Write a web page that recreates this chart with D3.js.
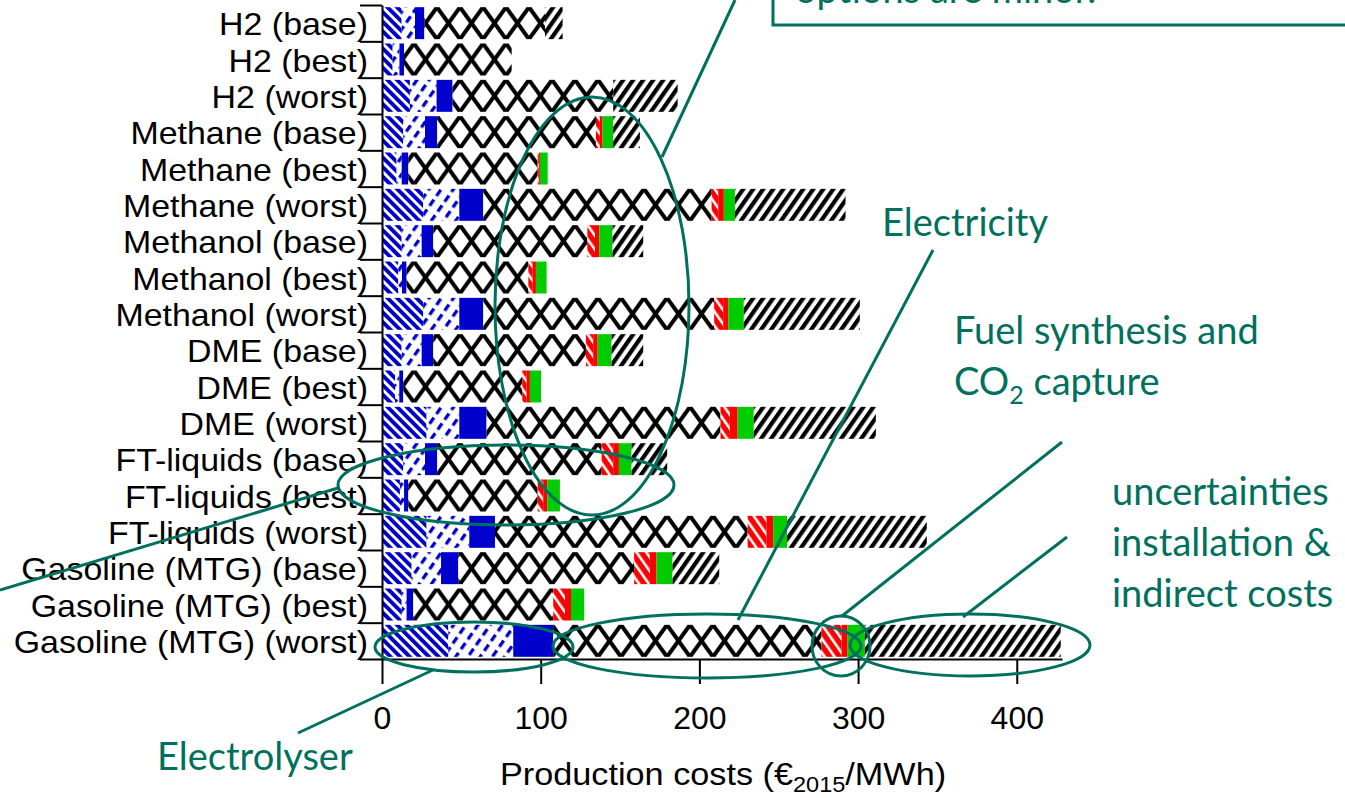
<!DOCTYPE html>
<html lang="en">
<head>
    <meta charset="UTF-8">
    <script src="https://d3js.org/d3.v7.min.js"></script>
    <title>Production costs</title>
</head>
<style>
    body{
        margin: 0;
        background: #fff;
        overflow: hidden;
    }
    .rotulo{
        font-family: 'Liberation Sans', Arial, sans-serif;
        font-size: 32px;
        fill: #000;
    }
    .nota{
        font-family: Lato, 'Open Sans', sans-serif;
        font-size: 38px;
        fill: #00705e;
    }
</style>
<body>
    <div id='grafico'></div>
</body>
<script>
    var categorias = ['H2 (base)', 'H2 (best)', 'H2 (worst)', 'Methane (base)', 'Methane (best)', 'Methane (worst)',
        'Methanol (base)', 'Methanol (best)', 'Methanol (worst)', 'DME (base)', 'DME (best)', 'DME (worst)',
        'FT-liquids (base)', 'FT-liquids (best)', 'FT-liquids (worst)',
        'Gasoline (MTG) (base)', 'Gasoline (MTG) (best)', 'Gasoline (MTG) (worst)']

    // values in €2015/MWh
    var elyCapex = [12.4, 6.7, 17.6, 13.4, 9.2, 26, 12.4, 10.3, 26, 12.4, 8.2, 28.1, 13.4, 11.3, 28.1, 18.7, 12.4, 41.8]
    var elyStack = [8.4, 4.3, 16.8, 13.7, 3.2, 22.7, 12.6, 2.3, 22.7, 12.6, 2.7, 20.6, 13.7, 2.6, 26.9, 18.5, 3.1, 40.9]
    var elyOM = [5.9, 2.9, 10.1, 7.7, 4.2, 15.1, 7.3, 2.9, 15.1, 7.3, 2.5, 17.2, 7.7, 2.7, 16.2, 10.9, 4.2, 25.2]
    var eletricidade = [76, 67.8, 101.2, 100, 81.5, 143.9, 97.1, 76.7, 145.5, 96.2, 75, 147.4, 103.6, 81.5, 159.2, 110.8, 88.2, 169.1]
    var sinteseCapex = [0, 0, 0, 2.5, 0.7, 4.2, 4.8, 2.7, 5.7, 4.6, 2.7, 5.9, 7.3, 3.5, 11.9, 9.9, 7.4, 12.6]
    var sinteseOM = [0, 0, 0, 1.7, 0.7, 3.5, 2.7, 2.1, 3.2, 2.8, 2.1, 4.9, 3.6, 2.5, 4.2, 4.2, 3.8, 3.8]
    var capturaCO2 = [0, 0, 0, 6.7, 4.9, 7, 8.4, 6.7, 9.8, 8.8, 7, 10.2, 8, 8, 8.8, 10.1, 8.3, 10.9]
    var incertezas = [11.1, 0, 40.6, 16.8, 0, 69.7, 19.3, 0, 73.1, 19.9, 0, 76.9, 22.4, 0, 88, 29.4, 0, 123.4]

    var ticksX = [0, 100, 200, 300, 400]

    var series = ['elyCapex', 'elyStack', 'elyOM', 'eletricidade', 'sinteseCapex', 'sinteseOM', 'capturaCO2', 'incertezas']
    var preenchimento = {
        elyCapex: 'url(#ely-diag)',
        elyStack: 'url(#ely-dash)',
        elyOM: '#0000cc',
        eletricidade: 'url(#cruzado)',
        sinteseCapex: 'url(#sintese)',
        sinteseOM: '#ff0000',
        capturaCO2: '#00cc00',
        incertezas: 'url(#incerteza)'
    }

    var tabela = categorias.map((c, i) => {
        return {
            cat: c,
            elyCapex: elyCapex[i],
            elyStack: elyStack[i],
            elyOM: elyOM[i],
            eletricidade: eletricidade[i],
            sinteseCapex: sinteseCapex[i],
            sinteseOM: sinteseOM[i],
            capturaCO2: capturaCO2[i],
            incertezas: incertezas[i]
        }
    })

    var pilha = d3.stack().keys(series)(tabela)

    var svg = d3.select('#grafico')
    .append('svg')
    .attr('width', 1345)
    .attr('height', 798)
    .style('display', 'block')

    var xScale = d3.scaleLinear()
    .domain([0, 428.5])
    .range([382, 1062])

    var yScale = d3.scaleBand()
    .domain(categorias)
    .range([5, 659])
    .paddingInner(0.12)
    .paddingOuter(0.06)

    var alt = yScale.bandwidth()

    // padroes
    var defs = svg.append('defs')

    function listras(id, fundo, cor, periodo, largura, angulo) {
        var p = defs.append('pattern')
        .attr('id', id)
        .attr('patternUnits', 'userSpaceOnUse')
        .attr('width', periodo)
        .attr('height', periodo)
        .attr('patternTransform', 'rotate(' + angulo + ')')
        p.append('rect').attr('width', periodo).attr('height', periodo).attr('fill', fundo)
        p.append('rect').attr('width', largura).attr('height', periodo).attr('fill', cor)
    }

    listras('ely-diag', '#fff', '#0000cc', 6.8, 3.9, -45)
    listras('sintese', '#ff0000', '#fff', 8, 2.6, -35)
    listras('incerteza', '#fff', '#000', 8.2, 4.2, 35)

    var tr = defs.append('pattern')
    .attr('id', 'ely-dash')
    .attr('patternUnits', 'userSpaceOnUse')
    .attr('width', 10)
    .attr('height', 12)
    .attr('patternTransform', 'rotate(35)')
    tr.append('rect').attr('width', 10).attr('height', 12).attr('fill', '#fff')
    tr.append('rect').attr('width', 3.3).attr('height', 7.5).attr('fill', '#0000cc')

    var cz = defs.append('pattern')
    .attr('id', 'cruzado')
    .attr('patternUnits', 'userSpaceOnUse')
    .attr('width', 23)
    .attr('height', alt)
    cz.append('rect').attr('width', 23).attr('height', alt).attr('fill', '#fff')
    var caminho = ''
    d3.range(-1, 3).forEach((k) => {
        caminho += 'M' + (23 * k - 23) + ',' + (-alt) + 'L' + (23 * k + 46) + ',' + (2 * alt)
        caminho += 'M' + (23 * k + 23) + ',' + (-alt) + 'L' + (23 * k - 46) + ',' + (2 * alt)
    })
    cz.append('path')
    .attr('d', caminho)
    .attr('stroke', '#000')
    .attr('stroke-width', 4)
    .attr('fill', 'none')

    // barras
    var linhas = svg.selectAll('g.linha')
    .data(categorias)
    .enter()
    .append('g')
    .attr('class', 'linha')
    .attr('transform', (d) => 'translate(0,' + yScale(d) + ')')

    linhas.selectAll('rect')
    .data((d, i) => pilha.map((s) => ({key: s.key, v0: s[i][0], v1: s[i][1]})).filter((s) => s.v1 > s.v0))
    .enter()
    .append('rect')
    .attr('x', (d) => xScale(d.v0))
    .attr('y', 0)
    .attr('width', (d) => xScale(d.v1) - xScale(d.v0))
    .attr('height', alt)
    .attr('fill', (d) => preenchimento[d.key])

    // eixos
    var yIdx = d3.scaleLinear()
    .domain([0, categorias.length])
    .range([5, 659])

    var yAxis = svg.append('g')
    .attr('transform', 'translate(382,0)')
    .call(d3.axisLeft(yIdx).tickValues(d3.range(categorias.length + 1)).tickFormat('').tickSize(22).tickSizeOuter(0))
    yAxis.selectAll('path, line').attr('stroke', '#000').attr('stroke-width', 2)

    var xAxis = svg.append('g')
    .attr('transform', 'translate(0,659)')
    .call(d3.axisBottom(xScale).tickValues(ticksX).tickFormat(d3.format('d')).tickSize(25).tickSizeOuter(0))
    xAxis.selectAll('path, line').attr('stroke', '#000').attr('stroke-width', 2)
    xAxis.selectAll('text')
    .attr('class', 'rotulo')
    .attr('y', 70)
    .attr('dy', 0)
    xAxis.attr('font-size', null).attr('font-family', null)

    svg.selectAll('text.cat')
    .data(categorias)
    .enter()
    .append('text')
    .attr('class', 'rotulo cat')
    .attr('text-anchor', 'end')
    .attr('transform', (d) => 'translate(368,' + (yScale(d) + alt / 2 + 12) + ') scale(1.06,1)')
    .text((d) => d)

    var titulo = svg.append('text')
    .attr('class', 'rotulo')
    .attr('transform', 'translate(500,785) scale(1.07,1)')
    titulo.append('tspan').text('Production costs (€')
    titulo.append('tspan').attr('font-size', '22px').attr('dy', 7).text('2015')
    titulo.append('tspan').attr('dy', -7).text('/MWh)')

    // anotacoes
    var notas = svg.append('g')
    .attr('stroke', '#00705e')
    .attr('stroke-width', 3)
    .attr('fill', 'none')

    var elipses = [
        [592, 306, 97, 209],
        [506, 485, 168, 40],
        [474, 647, 99, 25],
        [707, 646, 154, 32],
        [841, 646, 29, 30],
        [970, 645, 120, 31]
    ]
    notas.selectAll('ellipse')
    .data(elipses)
    .enter()
    .append('ellipse')
    .attr('cx', (d) => d[0])
    .attr('cy', (d) => d[1])
    .attr('rx', (d) => d[2])
    .attr('ry', (d) => d[3])

    var tracos = [
        [735, 0, 662, 157],
        [0, 590, 338, 488],
        [298, 733, 433, 670],
        [933, 250, 738, 620],
        [1062, 442, 842, 616],
        [1067, 537, 963, 617]
    ]
    notas.selectAll('line')
    .data(tracos)
    .enter()
    .append('line')
    .attr('x1', (d) => d[0])
    .attr('y1', (d) => d[1])
    .attr('x2', (d) => d[2])
    .attr('y2', (d) => d[3])

    notas.append('rect')
    .attr('x', 773)
    .attr('y', -20)
    .attr('width', 620)
    .attr('height', 45)

    var textos = [
        ['options are minor.', 795, 3],
        ['Electricity', 882, 236],
        ['Fuel synthesis and', 954, 344],
        ['uncertainties', 1112, 505],
        ['installation &', 1112, 556],
        ['indirect costs', 1112, 607],
        ['Electrolyser', 157, 770]
    ]
    svg.selectAll('text.nota')
    .data(textos)
    .enter()
    .append('text')
    .attr('class', 'nota')
    .attr('x', (d) => d[1])
    .attr('y', (d) => d[2])
    .text((d) => d[0])

    var co2 = svg.append('text')
    .attr('class', 'nota')
    .attr('x', 954)
    .attr('y', 395)
    co2.append('tspan').text('CO')
    co2.append('tspan').attr('font-size', '25px').attr('dy', 9).text('2')
    co2.append('tspan').attr('dy', -9).text(' capture')
</script>
</html>
